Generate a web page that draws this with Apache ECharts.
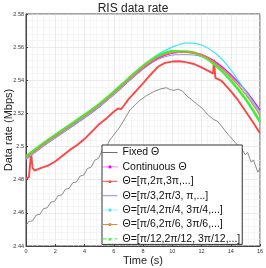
<!DOCTYPE html>
<html><head><meta charset="utf-8">
<script src="https://cdn.jsdelivr.net/npm/echarts@6/dist/echarts.min.js"></script>
<style>html,body{margin:0;padding:0;background:#fff}#c{width:266px;height:268px}</style>
</head><body><div id="c"></div>
<script>
var xTicks = [0, 2, 4, 6, 8, 10, 12, 14, 16];
var yTicks = [2.44, 2.46, 2.48, 2.5, 2.52, 2.54, 2.56, 2.58];
var legendNames = ['Fixed Θ', 'Continuous Θ', 'Θ=[π,2π,3π,...]', 'Θ=[π/3,2π/3, π,...]', 'Θ=[π/4,2π/4, 3π/4,...]', 'Θ=[π/6,2π/6, 3π/6,...]', 'Θ=[π/12,2π/12, 3π/12,...]'];

var fixedTime = [0,0.2,0.45,0.7,0.95,1.2,1.45,1.7,1.95,2.2,2.45,2.7,2.95,3.2,3.45,3.7,3.95,4.2,4.45,4.7,4.95,5.2,5.45,5.74,6.0,6.43,6.8,7.1,7.5,7.8,8.2,8.7,9.2,9.6,9.9,10.1,10.4,10.7,11.0,11.3,11.7,12.0,12.4,12.8,13.1,13.4,13.8,14.3,14.75,15.0,15.15,15.4,15.55,15.85,16.0];
var fixedRate = [2.4525,2.4548,2.4552,2.4587,2.4591,2.4626,2.4630,2.4665,2.4669,2.4704,2.4708,2.4743,2.4747,2.4782,2.4786,2.4822,2.4828,2.4868,2.4875,2.4918,2.4928,2.4975,2.4990,2.5040,2.5070,2.5120,2.5175,2.5220,2.5255,2.5280,2.5305,2.5330,2.5348,2.5355,2.5342,2.5340,2.5346,2.5335,2.5305,2.5285,2.5255,2.5235,2.5195,2.5165,2.5152,2.5120,2.5075,2.5025,2.4985,2.4950,2.4965,2.4905,2.4920,2.4845,2.4870];

var groupTime = [0,1,2,3,4,5,6,7,8,9,10,11,12,13,14,15,16];
var continuousRate = [2.4924,2.4992,2.5054,2.5114,2.5175,2.5240,2.5314,2.5394,2.5470,2.5531,2.5564,2.5571,2.5556,2.5508,2.5434,2.5340,2.5220];
var pi3Rate = [2.4922,2.4990,2.5052,2.5112,2.5173,2.5238,2.5312,2.5392,2.5468,2.5525,2.5552,2.5555,2.5543,2.5500,2.5430,2.5336,2.5210];
var pi4Rate = [2.4927,2.4995,2.5057,2.5117,2.5178,2.5243,2.5317,2.5398,2.5480,2.5555,2.5600,2.5626,2.5613,2.5560,2.5465,2.5335,2.5205];
var pi6Rate = [2.4932,2.5000,2.5062,2.5122,2.5183,2.5248,2.5322,2.5402,2.5478,2.5537,2.5567,2.5571,2.5553,2.5500,2.5420,2.5318,2.5190];
var pi12Rate = [2.4940,2.5008,2.5070,2.5130,2.5191,2.5256,2.5330,2.5410,2.5486,2.5545,2.5575,2.5573,2.5549,2.5488,2.5400,2.5288,2.5150];

var piTime = [0,0.2,0.35,0.45,0.6,1.0,1.5,2,2.5,3,3.5,4,4.5,5,5.5,6,6.3,6.5,6.7,7,7.5,8,8.5,9,9.5,10,10.5,11,11.5,12,12.5,12.8,12.85,12.95,13.3,13.5,14,14.5,15,15.5,16];
var piRate = [2.4805,2.4815,2.4960,2.4870,2.4855,2.4870,2.4885,2.4910,2.4945,2.4980,2.5010,2.5045,2.5090,2.5135,2.5170,2.5210,2.5230,2.5226,2.5248,2.5285,2.5333,2.5382,2.5432,2.5480,2.5505,2.5513,2.5515,2.5508,2.5498,2.5478,2.5455,2.5440,2.5525,2.5415,2.5400,2.5385,2.5335,2.5280,2.5215,2.5150,2.5080];

function pairs(t, v) { return t.map(function (x, i) { return [x, v[i]]; }); }

var chart = echarts.init(document.getElementById('c'), null, {renderer: 'canvas'});
var FONT = 'Liberation Sans, Arial, Helvetica, sans-serif';
function mk(name, t, v, color, width, symbol, z, smooth) {
  return {
    name: name, type: 'line', data: pairs(t, v),
    symbol: symbol, symbolSize: 4, showSymbol: false,
    smooth: smooth ? 0.3 : false,
    lineStyle: {color: color, width: width},
    itemStyle: {color: color},
    z: z, animation: false, silent: true
  };
}
var legendData = [
  {name: legendNames[0], itemStyle: {opacity: 0}},
  {name: legendNames[1], lineStyle: {type: 'dotted'}},
  {name: legendNames[2]},
  {name: legendNames[3], itemStyle: {opacity: 0}},
  {name: legendNames[4], lineStyle: {type: 'dotted'}},
  {name: legendNames[5]},
  {name: legendNames[6], lineStyle: {type: 'dashed'}}
];
chart.setOption({
  animation: false,
  title: {text: 'RIS data rate', left: 'center', top: -2,
    textStyle: {fontFamily: FONT, fontSize: 12, fontWeight: 'normal', color: '#222'}},
  grid: {left: 26, right: 6, top: 14, bottom: 22, containLabel: false, outerBoundsMode: 'none',
    show: true, borderColor: '#444', borderWidth: 1, backgroundColor: 'transparent'},
  xAxis: {
    type: 'value', min: xTicks[0], max: xTicks[xTicks.length - 1], interval: 2,
    name: 'Time (s)', nameLocation: 'middle', nameGap: 9, nameMoveOverlap: false,
    nameTextStyle: {fontFamily: FONT, fontSize: 11, color: '#222'},
    axisLine: {show: true, lineStyle: {color: '#444'}},
    axisTick: {show: true, inside: true, length: 2, lineStyle: {color: '#444'}},
    axisLabel: {fontFamily: FONT, fontSize: 5.5, color: '#333', margin: 2},
    splitLine: {show: true, lineStyle: {color: '#dedede', width: 0.6}},
    minorTick: {show: false, splitNumber: 5},
    minorSplitLine: {show: true, lineStyle: {color: '#efefef', width: 0.6}}
  },
  yAxis: {
    type: 'value', min: yTicks[0], max: yTicks[yTicks.length - 1], interval: 0.02,
    name: 'Data rate (Mbps)', nameLocation: 'middle', nameGap: 12, nameMoveOverlap: false,
    nameTextStyle: {fontFamily: FONT, fontSize: 11, color: '#222'},
    axisLine: {show: true, lineStyle: {color: '#444'}},
    axisTick: {show: true, inside: true, length: 2, lineStyle: {color: '#444'}},
    axisLabel: {fontFamily: FONT, fontSize: 5.5, color: '#333', margin: 2,
      formatter: function (v) { return String(+v.toFixed(2)); }},
    splitLine: {show: true, lineStyle: {color: '#dedede', width: 0.6}},
    minorTick: {show: false, splitNumber: 5},
    minorSplitLine: {show: true, lineStyle: {color: '#efefef', width: 0.6}}
  },
  legend: {
    orient: 'vertical', left: 102, top: 145,
    backgroundColor: '#fff', borderColor: '#333', borderWidth: 1, borderRadius: 0,
    padding: [2, 2, 0, 0], itemWidth: 15, itemHeight: 4, itemGap: 3.4,
    lineStyle: {width: 1},
    textStyle: {fontFamily: FONT, fontSize: 10.5, color: '#111'},
    data: legendData, z: 20
  },
  series: [
    mk(legendNames[0], fixedTime, fixedRate, '#6e6e6e', 0.8, 'none', 2, false),
    mk(legendNames[1], groupTime, continuousRate, '#ff00ff', 1.5, 'circle', 3, true),
    mk(legendNames[2], piTime, piRate, '#ff4545', 1.9, 'triangle', 4, false),
    mk(legendNames[3], groupTime, pi3Rate, '#8a8aff', 1, 'none', 5, true),
    mk(legendNames[4], groupTime, pi4Rate, '#3ee8f5', 1.2, 'circle', 6, true),
    mk(legendNames[5], groupTime, pi6Rate, '#e08a35', 1.4, 'circle', 8, true),
    mk(legendNames[6], groupTime, pi12Rate, '#3ef03e', 2.6, 'triangle', 7, true)
  ]
});
</script></body></html>
